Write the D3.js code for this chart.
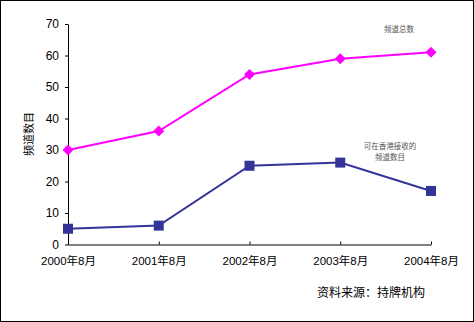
<!DOCTYPE html>
<html>
<head>
<meta charset="utf-8">
<script src="https://cdn.jsdelivr.net/npm/d3@7"></script>
<style>
  html, body { margin: 0; padding: 0; background: #fff; }
  svg { display: block; }
</style>
</head>
<body>
<svg id="chart" width="474" height="322"></svg>
<script>
// Channel counts, August of each year
const categories = ["2000年8月", "2001年8月", "2002年8月", "2003年8月", "2004年8月"];
const totalChannels = [30, 36, 54, 59, 61];
const receivableChannels = [5, 6, 25, 26, 17];
const yTicks = [0, 10, 20, 30, 40, 50, 60, 70];

(function () {
const svg = d3.select("#chart");
const W = 474, H = 322;
const font = "'Liberation Sans', 'Noto Sans CJK SC', sans-serif";

// outer frame
svg.append("rect")
  .attr("x", 0.5).attr("y", 0.5)
  .attr("width", W - 1).attr("height", H - 1)
  .attr("fill", "#fff").attr("stroke", "#000").attr("stroke-width", 1);

const plotLeft = 68, plotRight = 431, plotTop = 24, plotBottom = 244.5;

const x = d3.scalePoint().domain(categories).range([plotLeft, plotRight]);
const y = d3.scaleLinear().domain([0, 70]).range([plotBottom, plotTop]);

// y axis
const yAxis = svg.append("g")
  .attr("transform", `translate(${plotLeft},0)`)
  .call(d3.axisLeft(y).tickValues(yTicks).tickSize(3).tickSizeOuter(0).tickPadding(6));
yAxis.select(".domain").attr("stroke", "#000");
yAxis.selectAll("text").attr("font-family", font).attr("font-size", 12).attr("fill", "#000");

// x axis, ticks pointing into the plot
const xAxis = svg.append("g")
  .attr("transform", `translate(0,${plotBottom})`)
  .call(d3.axisBottom(x).tickSize(-3).tickSizeOuter(0).tickPadding(12));
xAxis.select(".domain").attr("stroke", "#000");
xAxis.selectAll("text").attr("font-family", font).attr("font-size", 11.5).attr("fill", "#000");

// y axis title
svg.append("text")
  .attr("transform", "translate(33,134) rotate(-90)")
  .attr("text-anchor", "middle")
  .attr("font-family", font).attr("font-size", 11)
  .text("频道数目");

const line = d3.line().x((d, i) => x(categories[i])).y(d => y(d));

// total channels
svg.append("path")
  .datum(totalChannels)
  .attr("d", line)
  .attr("fill", "none").attr("stroke", "#FF00FF").attr("stroke-width", 2);
svg.selectAll(".diamond")
  .data(totalChannels)
  .join("path")
  .attr("class", "diamond")
  .attr("transform", (d, i) => `translate(${x(categories[i])},${y(d)})`)
  .attr("d", "M0,-5.5L5.5,0L0,5.5L-5.5,0Z")
  .attr("fill", "#FF00FF");

// channels receivable in Hong Kong
svg.append("path")
  .datum(receivableChannels)
  .attr("d", line)
  .attr("fill", "none").attr("stroke", "#333399").attr("stroke-width", 2);
svg.selectAll(".square")
  .data(receivableChannels)
  .join("rect")
  .attr("class", "square")
  .attr("x", (d, i) => x(categories[i]) - 5)
  .attr("y", d => y(d) - 5)
  .attr("width", 10).attr("height", 10)
  .attr("fill", "#333399");

// series labels
const labelStyle = sel => sel
  .attr("font-family", font).attr("font-size", 7.5)
  .attr("fill", "#555").attr("text-anchor", "middle");
svg.append("text").call(labelStyle).attr("x", 399).attr("y", 32).text("频道总数");
svg.append("text").call(labelStyle).attr("x", 390).attr("y", 149).text("可在香港接收的");
svg.append("text").call(labelStyle).attr("x", 390).attr("y", 160).text("频道数目");

// source note
svg.append("text")
  .attr("x", 317).attr("y", 297)
  .attr("font-family", font).attr("font-size", 12)
  .text("资料来源：持牌机构");
})();
</script>
</body>
</html>
